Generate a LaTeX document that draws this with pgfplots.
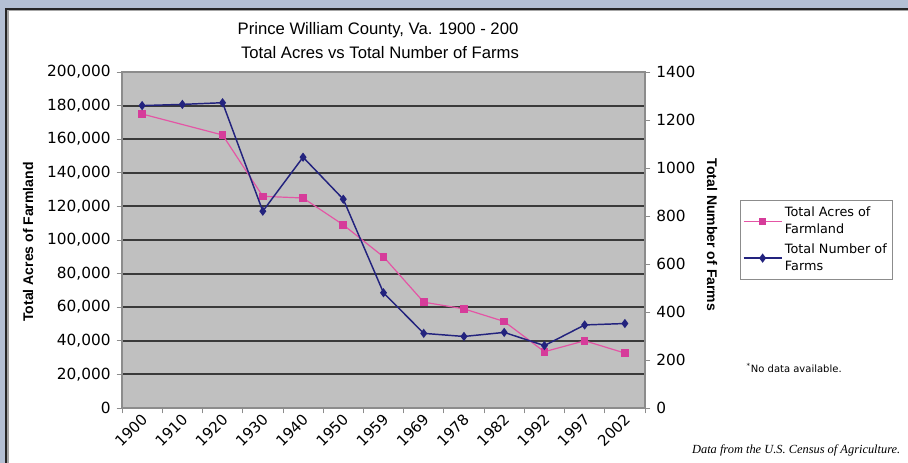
\documentclass[border=0pt]{standalone}
\usepackage{fontspec}
\setmainfont{DejaVu Sans}
\newfontfamily\titlefont{Liberation Sans}
\newfontfamily\seriffont{Liberation Serif}
\usepackage{pgfplots}
\pgfplotsset{compat=1.18}
\definecolor{bgblue}{HTML}{B4C0D4}
\definecolor{plotgray}{HTML}{C0C0C0}
\definecolor{gridcol}{HTML}{3A3A3A}
\definecolor{axisgray}{HTML}{8C8C8C}
\definecolor{pinkline}{HTML}{E455A5}
\definecolor{pinkmark}{HTML}{D63C9A}
\definecolor{navy}{HTML}{23237E}
\begin{document}
\begin{tikzpicture}[x=0.75pt,y=0.75pt]
\useasboundingbox (0,0) rectangle (908,463);
\fill[bgblue] (0,0) rectangle (908,463);
\fill[white] (5,0) rectangle (908,455);
\draw[gray!70, line width=1.5pt] (7.5,0) -- (7.5,452.5) -- (908,452.5);
\draw[black!85, line width=1.2pt] (5.8,0) -- (5.8,454.2) -- (908,454.2);

\pgfplotsset{
  common/.style={
    at={(91.5pt,41.25pt)}, anchor=south west,
    scale only axis, width=392.25pt, height=252pt,
    xmin=-0.5, xmax=12.5,
    major tick length=0pt, minor tick length=4pt,
    tick align=outside,
    tick style={draw=axisgray, line width=0.6pt},
    axis line style={draw=axisgray, line width=0.8pt},
    tick label style={font=\fontsize{11.5}{13}\selectfont, /pgf/number format/assume math mode=true},
  }
}

\begin{axis}[common,
  ymin=0, ymax=200000,
  axis background/.style={fill=plotgray},
  xtick={0,...,12},
  xticklabels={1900,1910,1920,1930,1940,1950,1959,1969,1978,1982,1992,1997,2002},
  minor xtick={-0.5,0.5,...,12.5},
  xtick pos=bottom,
  xticklabel style={rotate=45, anchor=east, font=\fontsize{11.2}{13}\selectfont, xshift=0pt, yshift=-6pt},
  ytick={0,20000,...,200000},
  minor ytick={0,20000,...,200000},
  ytick pos=left,
  scaled y ticks=false,
  yticklabel style={xshift=-5pt, /pgf/number format/fixed, /pgf/number format/1000 sep={,}},
  ymajorgrids,
  major grid style={draw=gridcol, line width=1.4pt},
]
\addplot[color=pinkline, line width=0.9pt, mark=square*, mark size=2.4pt,
  mark options={fill=pinkmark, draw=pinkmark}] coordinates {
(0,175000) (2,162500) (3,126000) (4,125000) (5,109000) (6,90000)
(7,63000) (8,59000) (9,51500) (10,33500) (11,40000) (12,32700)
};
\end{axis}

\begin{axis}[common,
  ymin=0, ymax=1400,
  axis x line=none,
  axis y line*=right,
  ytick={0,200,...,1400},
  minor ytick={0,200,...,1400},
  ytick pos=right,
  yticklabel style={xshift=5pt, /pgf/number format/fixed, /pgf/number format/1000 sep={}},
  legend style={at={(1.1816,0.619)}, anchor=north west, draw=axisgray, fill=white,
    font=\fontsize{9.6}{12.8}\selectfont, cells={align=left}, inner xsep=2pt, inner ysep=3pt,
    row sep=2pt},
  legend cell align=left,
  legend image code/.code={\draw[mark repeat=2,mark phase=2] plot coordinates {(0cm,0cm) (0.5cm,0cm) (1cm,0cm)};},
]
\addlegendimage{color=pinkline, line width=0.9pt, mark=square*, mark size=2.4pt, mark options={fill=pinkmark, draw=pinkmark}}
\addlegendentry{Total Acres of\\Farmland}
\addplot[color=navy, line width=1.1pt, mark=diamond*, mark size=2.6pt,
  mark options={fill=navy}] coordinates {
(0,1260) (1,1265) (2,1272) (3,820) (4,1045) (5,870) (6,480)
(7,311) (8,298) (9,315) (10,260) (11,346) (12,352)
};
\addlegendentry{Total Number of\\Farms}
\end{axis}

\node[font=\titlefont\fontsize{12.5}{14}\selectfont] at (378,433) {Prince William County, Va. 1900 - 200};
\node[font=\titlefont\fontsize{12.5}{14}\selectfont] at (380,410) {Total Acres vs Total Number of Farms};
\node[rotate=90, font=\titlefont\bfseries\fontsize{10.5}{12}\selectfont] at (28,221) {Total Acres of Farmland};
\node[rotate=-90, font=\titlefont\bfseries\fontsize{10.5}{12}\selectfont] at (712,228) {Total Number of Farms};
\node[font=\fontsize{7.5}{9}\selectfont, anchor=west] at (742,95) {\textsuperscript{*}No data available.};
\node[font=\seriffont\itshape\fontsize{9.3}{11}\selectfont, anchor=base east] at (905,9) {Data from the U.S. Census of Agriculture.};
\end{tikzpicture}
\end{document}
